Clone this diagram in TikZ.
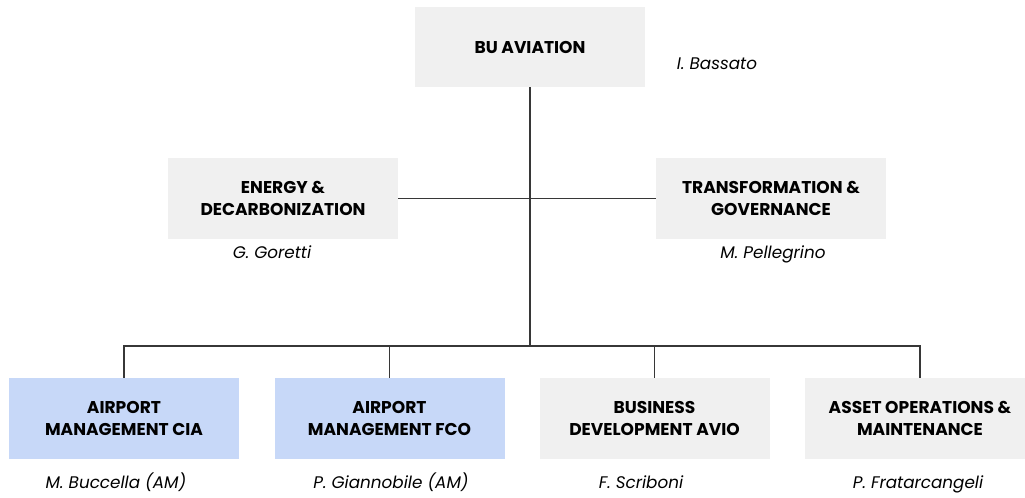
\documentclass[tikz,border=0pt]{standalone}
\usepackage{fontspec}
\setmainfont{Poppins}
\usepackage{xcolor}
\definecolor{boxgray}{RGB}{240,240,240}
\definecolor{boxblue}{RGB}{199,216,248}
\definecolor{linegray}{RGB}{55,55,55}

\begin{document}
\begin{tikzpicture}[x=0.75pt, y=-0.75pt,
      unit/.style={fill=boxgray, minimum width=172.5pt, minimum height=60.5pt, inner sep=0pt, align=center, font=\bfseries\fontsize{12.8}{17}\selectfont},
      airport/.style={unit, fill=boxblue},
      head/.style={inner sep=0pt, text height=9pt, text depth=3pt, font=\itshape\fontsize{12.6}{15}\selectfont},
      link/.style={draw=linegray, line width=0.9pt}]
      \useasboundingbox (0, 0) rectangle (1025, 498);

      \node[unit, minimum height=60pt] (bu) at (530, 47) {BU AVIATION};
      \node[head] (bassato) at (717, 66) {I. Bassato};

      \node[unit] (energy) at (283, 198.5) {ENERGY \&\\DECARBONIZATION};
      \node[unit] (transf) at (771, 198.5) {TRANSFORMATION \&\\GOVERNANCE};
      \node[head] (goretti) at (272, 255) {G. Goretti};
      \node[head] (pellegrino) at (773, 255) {M. Pellegrino};

      \node[airport] (cia) at (124, 418.5) {AIRPORT\\MANAGEMENT CIA};
      \node[airport] (fco) at (389.5, 418.5) {AIRPORT\\MANAGEMENT FCO};
      \node[unit] (avio) at (654.5, 418.5) {BUSINESS\\DEVELOPMENT AVIO};
      \node[unit] (asset) at (920, 418.5) {ASSET OPERATIONS \&\\MAINTENANCE};
      \node[head] (buccella) at (116, 485) {M. Buccella (AM)};
      \node[head] (giannobile) at (391, 485) {P. Giannobile (AM)};
      \node[head] (scriboni) at (641, 485) {F. Scriboni};
      \node[head] (fratarcangeli) at (918, 485) {P. Fratarcangeli};

      % connectors
      \coordinate (bus) at (530, 346);
      \draw[link] (bu.south) -- (bus);
      \draw[link] (energy.east) -- (transf.west);
      \draw[link] (cia.north) |- (bus) -| (asset.north);
      \draw[link] (fco.north) -- (fco.north |- bus);
      \draw[link] (avio.north) -- (avio.north |- bus);
    \end{tikzpicture}
\end{document}
